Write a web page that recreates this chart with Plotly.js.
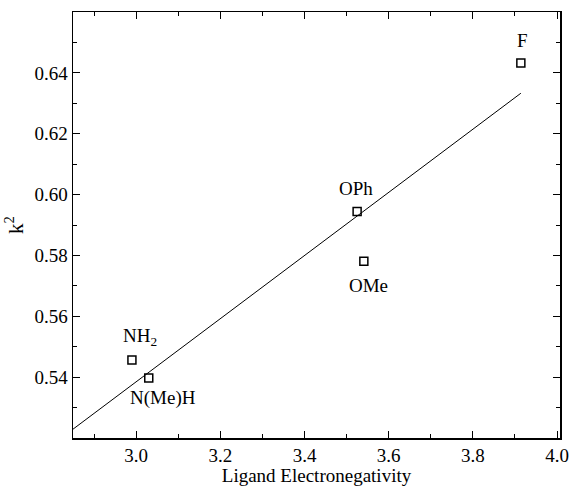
<!DOCTYPE html>
<html>
<head>
<meta charset="utf-8">
<script src="https://cdn.plot.ly/plotly-3.0.1.min.js"></script>
<style>html,body{margin:0;padding:0;background:#fff;}#chart{width:569px;height:486px;}</style>
</head>
<body>
<div id="chart"></div>
<script>
// Data
const ligands = ["F", "OPh", "OMe", "NH<sub>2</sub>", "N(Me)H"];
const electronegativity = [3.914, 3.525, 3.541, 2.990, 3.030];
const k2 = [0.6432, 0.5944, 0.5781, 0.5456, 0.5397];
// fitted line endpoints
const fitX = [2.85, 3.914];
const fitY = [0.5229, 0.6333];
// tick labels
const xTicks = [3.0, 3.2, 3.4, 3.6, 3.8, 4.0];
const xTickText = ["3.0", "3.2", "3.4", "3.6", "3.8", "4.0"];
const yTicks = [0.54, 0.56, 0.58, 0.60, 0.62, 0.64];
const yTickText = ["0.54", "0.56", "0.58", "0.60", "0.62", "0.64"];
// label placement (pixels): vertical and horizontal offsets
const labelDy = [23, 23, -24, 23, -20];
const labelDx = [2, -1, 5, 8, 14];

const FONT = "Liberation Serif, Times New Roman, serif";

const traces = [
  {
    x: fitX, y: fitY, mode: "lines", type: "scatter",
    line: {color: "#000", width: 1}, hoverinfo: "skip"
  },
  {
    x: electronegativity, y: k2, mode: "markers", type: "scatter",
    marker: {symbol: "square-open", size: 8, color: "#000", line: {width: 1.5, color: "#000"}}
  }
];

const annotations = ligands.map((t, i) => ({
  x: electronegativity[i], y: k2[i], xref: "x", yref: "y",
  text: t, showarrow: false, yshift: labelDy[i], xshift: labelDx[i],
  font: {family: FONT, size: 19, color: "#000"}
}));

const axisCommon = {
  showline: true, linecolor: "#000", linewidth: 1.5, mirror: "allticks",
  ticks: "inside", ticklen: 7, tickwidth: 1, tickcolor: "#000",
  showgrid: false, zeroline: false,
  tickfont: {family: FONT, size: 19, color: "#000"}
};

const layout = {
  width: 569, height: 486,
  margin: {l: 73, r: 9, t: 12, b: 48},
  paper_bgcolor: "#fff", plot_bgcolor: "#fff",
  showlegend: false,
  font: {family: FONT, color: "#000"},
  xaxis: Object.assign({}, axisCommon, {
    range: [2.85, 4.007], tickmode: "array", tickvals: xTicks, ticktext: xTickText,
    minor: {dtick: 0.1, tick0: 3.0, ticks: "inside", ticklen: 4, tickcolor: "#000", tickwidth: 1},
    title: {text: "Ligand Electronegativity", font: {family: FONT, size: 19, color: "#000"}, standoff: 0}
  }),
  yaxis: Object.assign({}, axisCommon, {
    range: [0.52, 0.66], tickmode: "array", tickvals: yTicks, ticktext: yTickText,
    minor: {dtick: 0.01, tick0: 0.52, ticks: "inside", ticklen: 4, tickcolor: "#000", tickwidth: 1},
    title: {text: "k<sup>2</sup>", font: {family: FONT, size: 21, color: "#000"}, standoff: 5}
  }),
  annotations: annotations
};

Plotly.newPlot("chart", traces, layout, {displayModeBar: false, staticPlot: true});
</script>
</body>
</html>
